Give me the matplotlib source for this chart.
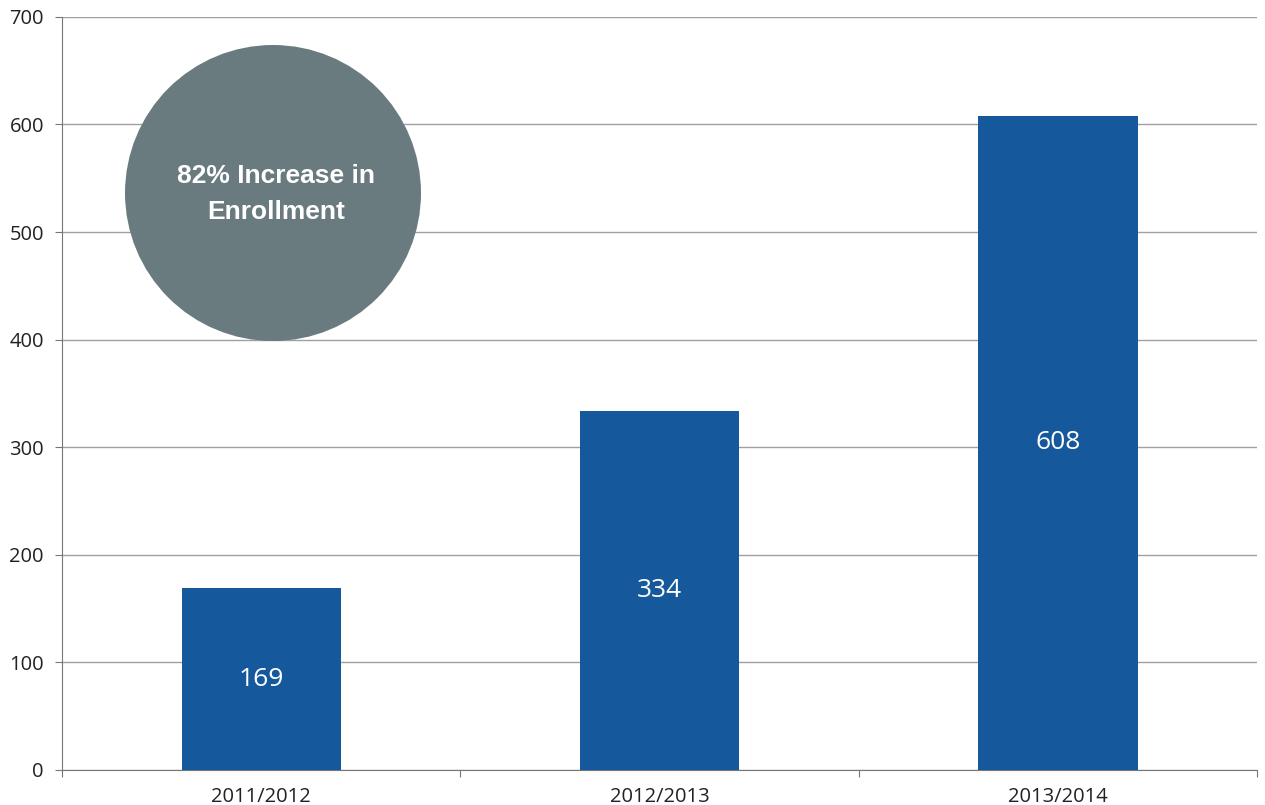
import matplotlib.pyplot as plt
from matplotlib.patches import Circle

# enrollment per school year
years = ["2011/2012", "2012/2013", "2013/2014"]
enrollment = [169, 334, 608]
bar_color = "#15599c"

fig = plt.figure(figsize=(12.65, 8.05), dpi=100)
ax = fig.add_axes([0.049, 0.0435, 0.945, 0.9355])

x = range(len(years))
bars = ax.bar(x, enrollment, width=0.4, color=bar_color, zorder=3)

# value labels inside the bars
for b, v in zip(bars, enrollment):
    ax.text(b.get_x() + b.get_width() / 2, v / 2, str(v), ha="center", va="center",
            color="white", fontsize=19, family="Open Sans", zorder=4)

ax.set_xlim(-0.5, 2.5)
ax.set_ylim(0, 700)
ax.set_yticks(range(0, 701, 100))
ax.grid(axis="y", color="#a0a0a0", linewidth=1.0, zorder=0)

# category labels without tick marks, ticks between groups
ax.set_xticks([-0.5, 0.5, 1.5, 2.5])
ax.set_xticklabels([])
ax.tick_params(axis="x", length=5, color="#777777", direction="out")
ax.set_xticks(list(x), minor=True)
ax.set_xticklabels(years, minor=True)
ax.tick_params(axis="x", which="minor", length=0, pad=12, labelsize=14.5, labelcolor="#222222")
for lbl in ax.get_xticklabels(minor=True):
    lbl.set_family("Open Sans")

ax.tick_params(axis="y", length=5, color="#777777", labelsize=14.5, labelcolor="#222222", pad=8)
for lbl in ax.get_yticklabels():
    lbl.set_family("Open Sans")

for s in ["top", "right"]:
    ax.spines[s].set_visible(False)
ax.spines["left"].set_color("#777777")
ax.spines["bottom"].set_color("#777777")

# grey badge with the headline figure
badge = Circle((2.73, 6.12), 1.48, transform=fig.dpi_scale_trans,
               facecolor="#6a7b7f", edgecolor="none", zorder=5)
fig.add_artist(badge)
fig.text(2.76 / 12.65, 6.11 / 8.05, "82% Increase in\nEnrollment", ha="center", va="center",
         color="white", fontsize=19, fontweight="bold", linespacing=1.6,
         family=["Liberation Sans", "DejaVu Sans"], zorder=6)

fig.savefig("out.png", dpi=100)
